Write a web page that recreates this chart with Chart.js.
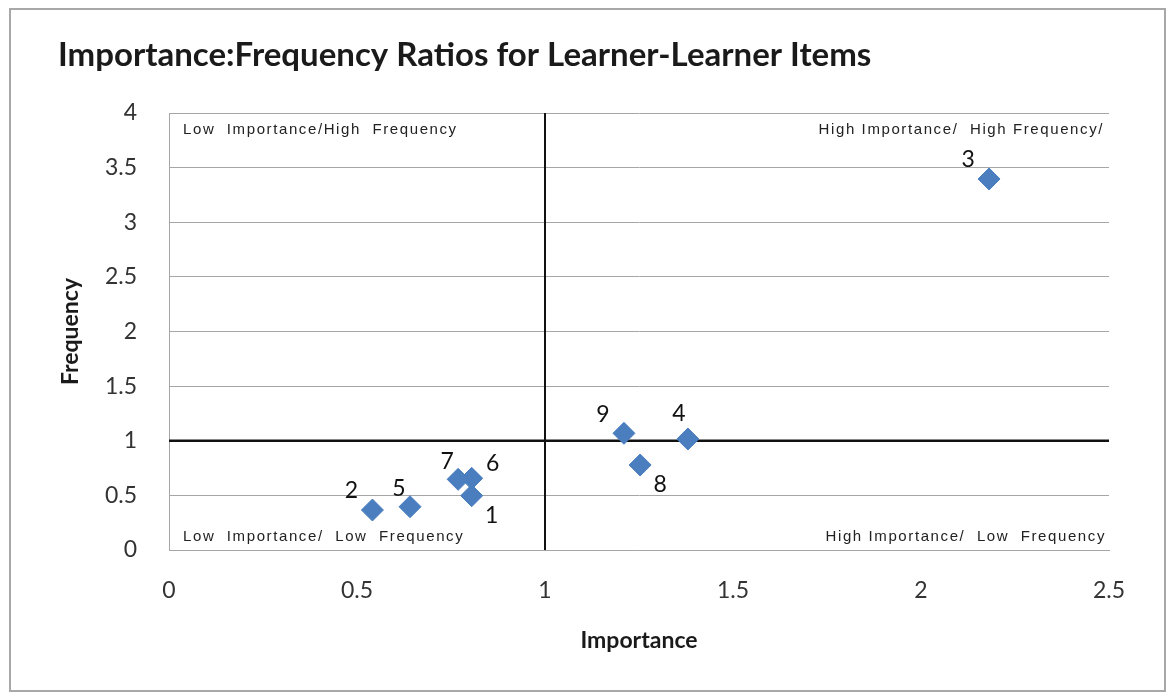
<!DOCTYPE html>
<html>
<head>
<meta charset="utf-8">
<script src="https://cdn.jsdelivr.net/npm/chart.js@4.4.0/dist/chart.umd.min.js"></script>
<style>
  html, body { margin: 0; padding: 0; background: #fff; }
  #wrap { width: 1170px; height: 696px; position: relative; }
</style>
</head>
<body>
<div id="wrap"><canvas id="ratioChart"></canvas></div>
<script>
// items 1..9, importance vs frequency ratio
const itemLabels = ['1', '2', '3', '4', '5', '6', '7', '8', '9'];
const importance = [0.805, 0.541, 2.181, 1.380, 0.641, 0.805, 0.769, 1.253, 1.210];
const frequency  = [0.497, 0.366, 3.396, 1.016, 0.396, 0.656, 0.647, 0.778, 1.068];
// where the item number sits around its marker
const labelSide  = ['br', 'tl', 'tl', 't', 'tn', 'tr', 'tn', 'br', 'tl'];
const xTicks = [0, 0.5, 1, 1.5, 2, 2.5];
const yTicks = [0, 0.5, 1, 1.5, 2, 2.5, 3, 3.5, 4];
const quadrantText = [
  'Low  Importance/High  Frequency',
  'High Importance/  High Frequency/',
  'Low  Importance/  Low  Frequency',
  'High Importance/  Low  Frequency'
];
const splitX = 1, splitY = 1;

const fontFam = 'Lato, "Open Sans", sans-serif';
const sideOffset = {
  tl: [-21, -19], tn: [-11, -18], t: [-9, -25], tr: [21, -15], br: [20, 20]
};

// frame, title and the four quadrant captions
const decorPlugin = {
  id: 'decor',
  beforeDraw(chart) {
    const ctx = chart.ctx;
    ctx.save();
    ctx.strokeStyle = '#a8a8a8';
    ctx.lineWidth = 2;
    ctx.strokeRect(10, 9, 1155, 682);
    ctx.fillStyle = '#1a1a1a';
    ctx.font = 'bold 33px ' + fontFam;
    ctx.textBaseline = 'middle';
    ctx.textAlign = 'left';
    ctx.fillText('Importance:Frequency Ratios for Learner-Learner Items', 58, 55);
    ctx.restore();
  },
  afterDatasetsDraw(chart) {
    const ctx = chart.ctx;
    const a = chart.chartArea;
    ctx.save();
    ctx.fillStyle = '#222';
    ctx.font = '15px "Liberation Sans Narrow", "Liberation Sans", Arial, sans-serif';
    ctx.letterSpacing = '1.6px';
    ctx.textBaseline = 'middle';
    ctx.textAlign = 'left';
    ctx.fillText(quadrantText[0], a.left + 14, a.top + 17);
    ctx.fillText(quadrantText[2], a.left + 14, a.bottom - 13);
    ctx.textAlign = 'right';
    ctx.fillText(quadrantText[1], a.right - 5, a.top + 17);
    ctx.fillText(quadrantText[3], a.right - 3, a.bottom - 13);
    ctx.letterSpacing = '0px';

    // item numbers next to the diamonds
    const meta = chart.getDatasetMeta(0);
    ctx.fillStyle = '#111';
    ctx.font = '23px ' + fontFam;
    ctx.textAlign = 'center';
    meta.data.forEach((pt, i) => {
      const off = sideOffset[labelSide[i]];
      ctx.fillText(itemLabels[i], pt.x + off[0], pt.y + off[1]);
    });
    ctx.restore();
  }
};

const plainNum = v => String(Number(v));

const ctx = document.getElementById('ratioChart');
new Chart(ctx, {
  type: 'scatter',
  data: {
    datasets: [
      {
        label: 'Items',
        data: importance.map((v, i) => ({ x: v, y: frequency[i] })),
        pointStyle: 'rectRot',
        pointRadius: 11,
        pointHoverRadius: 11,
        backgroundColor: '#4a7ebf',
        borderColor: '#4a7ebf',
        borderWidth: 1
      },
      {
        label: 'split importance',
        type: 'line',
        data: [{ x: splitX, y: yTicks[0] }, { x: splitX, y: yTicks[yTicks.length - 1] }],
        borderColor: '#111',
        borderWidth: 2,
        pointRadius: 0
      },
      {
        label: 'split frequency',
        type: 'line',
        data: [{ x: xTicks[0], y: splitY }, { x: xTicks[xTicks.length - 1], y: splitY }],
        borderColor: '#111',
        borderWidth: 2.5,
        pointRadius: 0
      }
    ]
  },
  options: {
    responsive: true,
    maintainAspectRatio: false,
    animation: false,
    layout: { padding: { left: 0, top: 113, right: 61, bottom: 0 } },
    plugins: {
      legend: { display: false },
      title: { display: false },
      tooltip: { enabled: false }
    },
    scales: {
      x: {
        type: 'linear',
        min: 0,
        max: 2.5,
        afterBuildTicks: s => { s.ticks = xTicks.map(v => ({ value: v })); },
        afterFit: s => { s.height = 146; },
        grid: { display: false, drawTicks: false },
        border: { display: true, color: '#a6a6a6', width: 1 },
        ticks: { padding: 27, color: '#333', callback: plainNum, font: { family: fontFam, size: 23 } },
        title: {
          display: true,
          text: 'Importance',
          color: '#1a1a1a',
          font: { family: fontFam, size: 23, weight: 'bold' },
          padding: { top: 0, bottom: 42 }
        }
      },
      y: {
        type: 'linear',
        min: 0,
        max: 4,
        afterBuildTicks: s => { s.ticks = yTicks.map(v => ({ value: v })); },
        afterFit: s => { s.width = 169; },
        grid: { color: '#a6a6a6', drawTicks: false },
        border: { display: true, color: '#a6a6a6', width: 1 },
        ticks: { padding: 32, color: '#333', callback: plainNum, font: { family: fontFam, size: 23 } },
        title: {
          display: true,
          text: 'Frequency',
          color: '#1a1a1a',
          font: { family: fontFam, size: 23, weight: 'bold' },
          padding: { top: 57, bottom: 0 }
        }
      }
    }
  },
  plugins: [decorPlugin]
});
</script>
</body>
</html>
